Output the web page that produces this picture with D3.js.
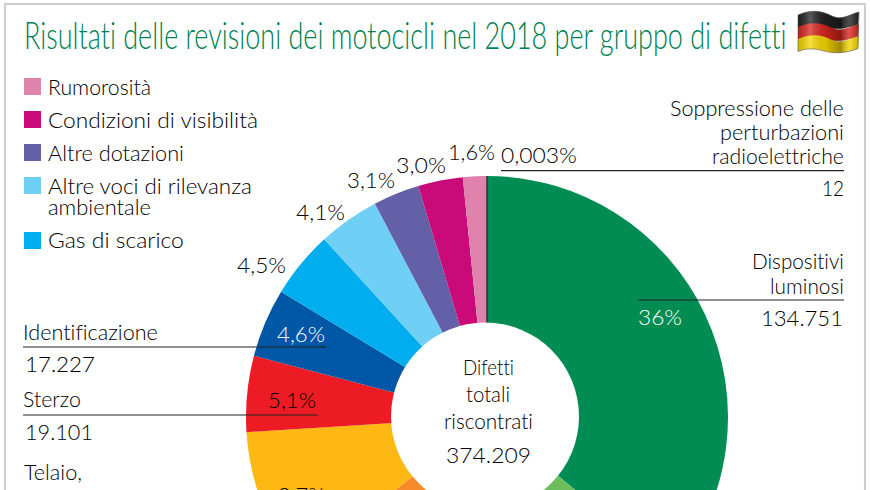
<!DOCTYPE html>
<html>
<head>
<meta charset="utf-8">
<script src="https://cdn.jsdelivr.net/npm/d3@7"></script>
<style>
html, body { margin: 0; padding: 0; background: #fff; overflow: hidden; }
svg { display: block; }
text { font-family: Lato, "Open Sans", sans-serif; font-weight: 300; fill: #000; font-variant-ligatures: none; }
</style>
</head>
<body>
<svg id="chart" width="870" height="490"></svg>
<script>
// slices clockwise from 12 o'clock; the two marked estimates lie mostly below the crop
var groups = ["Dispositivi luminosi", "(verde chiaro)", "(arancione)", "Telaio", "Sterzo", "Identificazione", "Gas di scarico", "Altre voci di rilevanza ambientale", "Altre dotazioni", "Condizioni di visibilità", "Rumorosità", "Soppressione delle perturbazioni radioelettriche"];
var shares = [36, 14.3, 14, 9.7, 5.1, 4.6, 4.5, 4.1, 3.1, 3.0, 1.6, 0.003];
var colors = ["#008c52", "#6cbd5b", "#f58a2b", "#fdb813", "#ed1c24", "#0057a5", "#00aeef", "#6fcff5", "#6460a8", "#cb0a79", "#df82ac", "#333333"];
var legendNames = ["Rumorosità", "Condizioni di visibilità", "Altre dotazioni", "Altre voci di rilevanza", "Gas di scarico"];

var svg = d3.select("#chart");

// text squeezed to the width measured on the picture
function put(str, x0, x1, y, size, fill) {
    var t = svg.append("text").attr("font-size", size || 22).text(str);
    if (fill) t.style("fill", fill);
    var sx = (x1 - x0) / t.node().getComputedTextLength();
    t.attr("transform", "translate(" + x0 + "," + y + ") scale(" + sx + ",1)");
    return t;
}
function rule(x0, x1, y) {
    svg.append("line").attr("x1", x0).attr("x2", x1).attr("y1", y).attr("y2", y).attr("stroke", "#222").attr("stroke-width", 1.2);
}

// frame
svg.append("rect").attr("x", 5).attr("y", 4).attr("width", 860).attr("height", 520).attr("fill", "#fff").attr("stroke", "#cfcfcf").attr("stroke-width", 2.2);

// title
put("Risultati delle revisioni dei motocicli nel 2018 per gruppo di difetti", 24, 787, 49, 37, "#007f50");

// flag
var defs = svg.append("defs");
var shade = defs.append("linearGradient").attr("id", "shade");
[[0, "#000", 0.15], [0.2, "#fff", 0.25], [0.45, "#000", 0.1], [0.7, "#000", 0.35], [0.85, "#fff", 0.2], [1, "#000", 0.2]].forEach(function (s) {
    shade.append("stop").attr("offset", s[0]).attr("stop-color", s[1]).attr("stop-opacity", s[2]);
});
function wave(top, h) {
    var a = "M798," + (top + 3) + "C812," + (top - 3) + " 822," + (top - 1) + " 832," + (top + 4) + "S850," + (top + 2) + " 859," + top;
    var b = "L858," + (top + h) + "C850," + (top + h + 3) + " 842," + (top + h + 5) + " 832," + (top + h + 4) + "S812," + (top + h - 3) + " 798," + (top + h + 3) + "Z";
    return a + b;
}
[["#222222", 12], ["#d8261f", 24], ["#f6d600", 36]].forEach(function (band) {
    svg.append("path").attr("d", wave(band[1], 12.5)).attr("fill", band[0]);
});
svg.append("path").attr("d", wave(12, 36.5)).attr("fill", "url(#shade)").attr("stroke", "#555").attr("stroke-width", 0.6);

// ring, the hole is a separate circle because it sits a little off the pie's centre
var cx = 487, cy = 417, outerR = 241;
var pie = d3.pie().sort(null).value(function (d) { return d; });
var arc = d3.arc().innerRadius(70).outerRadius(outerR);
var ring = svg.append("g").attr("transform", "translate(" + cx + "," + cy + ")");
ring.selectAll("path").data(pie(shares)).enter().append("path")
    .attr("d", arc)
    .attr("fill", function (d, i) { return colors[i]; })
    .attr("stroke", function (d, i) { return i === shares.length - 1 ? colors[i] : "none"; })
    .attr("stroke-width", 1);
svg.append("circle").attr("cx", 485).attr("cy", 416.5).attr("r", 94).attr("fill", "#fff");

// legend
var legendColors = [colors[10], colors[9], colors[8], colors[7], colors[6]];
var legendTop = [78, 111, 144, 177, 232];
var legendRight = [151, 258, 184, 252, 184];
var legendBase = [95, 128, 161, 194, 248];
legendNames.forEach(function (name, i) {
    svg.append("rect").attr("x", 24).attr("y", legendTop[i]).attr("width", 17).attr("height", 17).attr("fill", legendColors[i]);
    put(name, 48, legendRight[i], legendBase[i]);
});
put("ambientale", 48, 151, 215);

// percent labels
put("4,1%", 296, 345, 220);
put("3,1%", 347, 395, 188);
put("3,0%", 396, 446, 173);
put("1,6%", 448, 495, 160);
put("4,5%", 237, 286, 273);
put("0,003%", 501, 577, 163);
put("9,7%", 278, 325, 503);

// callouts right
put("Soppressione delle", 670, 844, 116);
put("perturbazioni", 720, 844, 140);
put("radioelettriche", 712, 844, 164);
rule(501, 844, 170.7);
put("12", 822, 844, 196);

put("Dispositivi", 752, 844, 269);
put("luminosi", 770, 844, 294);
rule(638, 844, 300);
put("36%", 638, 682, 325, 22, "#fff");
put("134.751", 761, 843, 326);

// callouts left
put("Identificazione", 23, 158, 340);
rule(23, 326, 347);
put("4,6%", 277, 325, 342, 22, "#fff");
put("17.227", 25, 95, 372);

put("Sterzo", 23, 81, 407);
rule(23, 318, 415);
put("5,1%", 268, 316, 408);
put("19.101", 25, 93, 440);

put("Telaio,", 24, 82, 480);

// centre
put("Difetti", 463, 514, 375);
put("totali", 466, 510, 402);
put("riscontrati", 444, 533, 429);
put("374.209", 446, 531, 463);
</script>
</body>
</html>
